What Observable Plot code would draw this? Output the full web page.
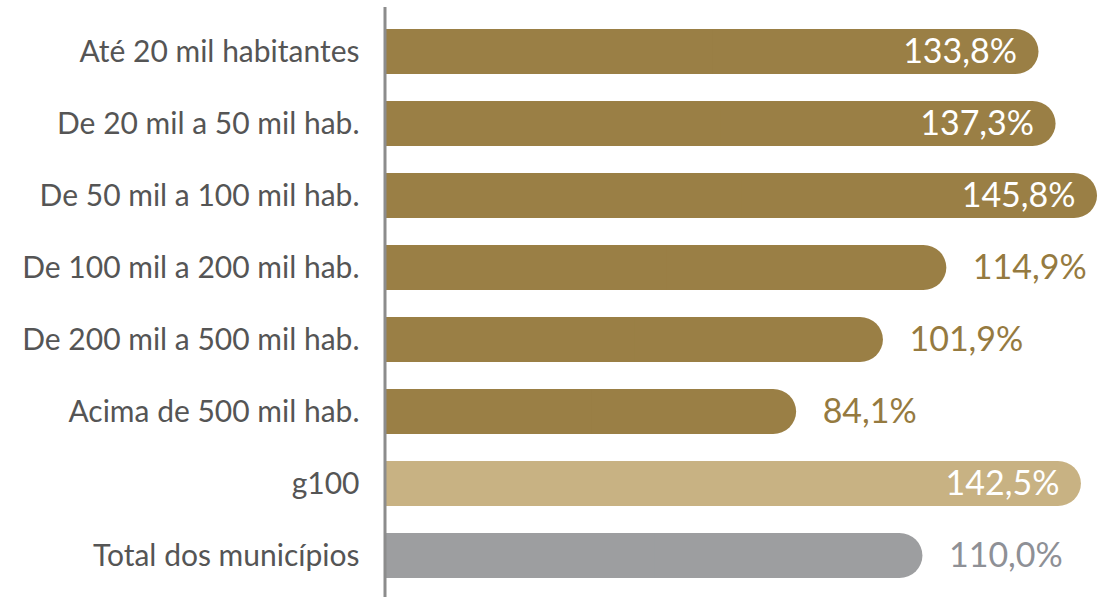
<!DOCTYPE html>
<html>
<head>
<meta charset="utf-8">
<script src="https://cdn.jsdelivr.net/npm/d3@7"></script>
<script src="https://cdn.jsdelivr.net/npm/@observablehq/plot@0.6"></script>
<style>
  html, body { margin: 0; padding: 0; background: #ffffff; }
  #chart svg { display: block; }
</style>
</head>
<body>
<div id="chart"></div>
<script>
const categories = [
  "Até 20 mil habitantes",
  "De 20 mil a 50 mil hab.",
  "De 50 mil a 100 mil hab.",
  "De 100 mil a 200 mil hab.",
  "De 200 mil a 500 mil hab.",
  "Acima de 500 mil hab.",
  "g100",
  "Total dos municípios"
];
const values = [133.8, 137.3, 145.8, 114.9, 101.9, 84.1, 142.5, 110.0];
const groups = ["faixa", "faixa", "faixa", "faixa", "faixa", "faixa", "g100", "total"];

const groupDomain = ["faixa", "g100", "total"];
const barColors = ["#9A7F45", "#C8B283", "#9D9EA0"];
const textColors = ["#957A40", "#C8B283", "#8E9096"];

const data = categories.map((c, i) => ({
  label: c,
  value: values[i],
  group: groups[i],
  inside: values[i] >= 130
}));

const fmt = v => v.toFixed(1).replace(".", ",") + "%";
const textColor = g => textColors[groupDomain.indexOf(g)];

const chart = Plot.plot({
  width: 1114,
  height: 597,
  marginTop: 14,
  marginBottom: 4,
  marginLeft: 386,
  marginRight: 16,
  style: { fontFamily: "Lato, 'Noto Sans', sans-serif", background: "#ffffff" },
  x: { domain: [0, 146], axis: null },
  y: { domain: categories, paddingInner: 0.38, paddingOuter: 0.19, label: null },
  color: { domain: groupDomain, range: barColors },
  marks: [
    Plot.barX(data, { x: "value", y: "label", fill: "group", rx: 23 }),
    Plot.barX(data, { x: d => d.value / 2, y: "label", fill: "group" }),
    Plot.ruleX([0], { stroke: "#8C8C8C", strokeWidth: 3, insetTop: -7, insetBottom: -4, dx: -1.5 }),
    Plot.axisY({ tickSize: 0, tickPadding: 27, fontSize: 30, fill: "#555555", label: null }),
    Plot.text(data.filter(d => d.inside), {
      x: "value", y: "label", text: d => fmt(d.value),
      textAnchor: "end", dx: -22, fill: "#ffffff", fontSize: 34
    }),
    Plot.text(data.filter(d => !d.inside), {
      x: "value", y: "label", text: d => fmt(d.value),
      textAnchor: "start", dx: 26, fill: d => textColor(d.group), fontSize: 34
    })
  ]
});

document.getElementById("chart").appendChild(chart);
</script>
</body>
</html>
